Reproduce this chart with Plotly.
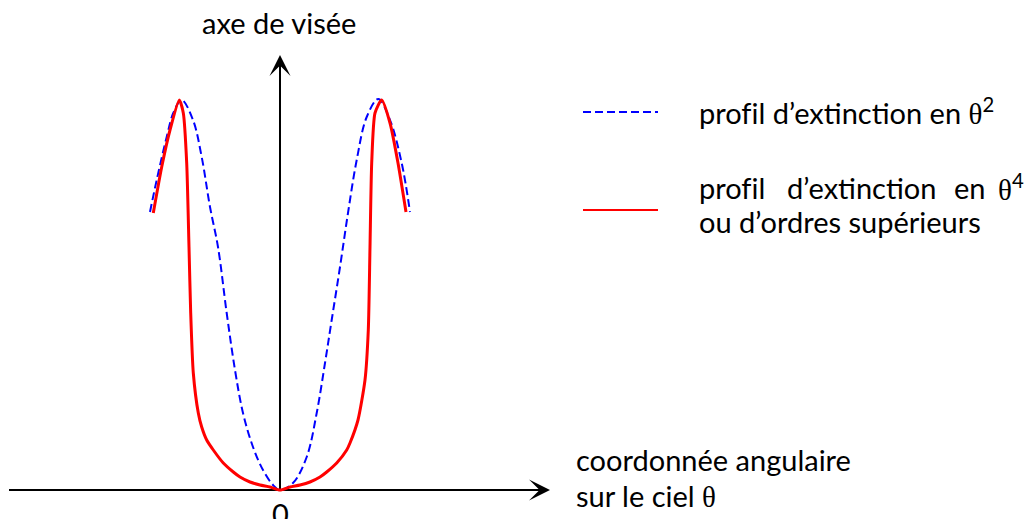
import plotly.graph_objects as go

# courbes (theta en abscisse, extinction en ordonnee)
blue_x = [-1.30, -1.233, -1.133, -1.067, -0.983, -0.87, -0.783, -0.70, -0.62, -0.533, -0.45, -0.37, -0.27, -0.17, -0.07, 0.0,
          0.13, 0.267, 0.367, 0.45, 0.517, 0.60, 0.68, 0.767, 0.867, 0.983, 1.10, 1.217, 1.30]
blue_y = [2.78, 3.10, 3.53, 3.77, 3.90, 3.70, 3.33, 2.83, 2.43, 1.77, 1.20, 0.77, 0.43, 0.20, 0.05, 0.0,
          0.07, 0.33, 0.77, 1.27, 1.70, 2.23, 2.77, 3.30, 3.73, 3.91, 3.70, 3.27, 2.78]

red_x = [-1.267, -1.183, -1.10, -1.007, -0.967, -0.933, -0.91, -0.893, -0.867, -0.817, -0.783, -0.733, -0.667,
         -0.567, -0.467, -0.40, -0.30, -0.20, -0.10, 0.0,
         0.10, 0.20, 0.30, 0.40, 0.467, 0.567, 0.667, 0.70, 0.78, 0.85, 0.883, 0.90, 0.917, 0.95, 1.017, 1.10, 1.18, 1.26]
red_y = [2.77, 3.23, 3.60, 3.90, 3.77, 3.27, 2.43, 1.77, 1.17, 0.77, 0.63, 0.50, 0.40,
         0.27, 0.18, 0.13, 0.08, 0.05, 0.03, 0.0,
         0.03, 0.05, 0.08, 0.13, 0.18, 0.27, 0.40, 0.47, 0.70, 1.10, 1.60, 2.43, 3.27, 3.77, 3.90, 3.67, 3.27, 2.78]

FONT = "Lato"
THETA = '<span style="font-family:Liberation Serif">θ</span>'
NJ = "\u200c"  # evite la ligature fi

fig = go.Figure()
fig.add_trace(go.Scatter(x=blue_x, y=blue_y, mode="lines", line_shape="spline",
                         line=dict(color="#0000ff", width=2, dash="8px,4px"), showlegend=False))
fig.add_trace(go.Scatter(x=red_x, y=red_y, mode="lines", line_shape="spline",
                         line=dict(color="#ff0000", width=3, smoothing=0.6), showlegend=False))

# axes dessines a la main
fig.add_shape(type="line", x0=-2.71, y0=0, x1=2.60, y1=0, line=dict(color="black", width=2), layer="below")
fig.add_shape(type="line", x0=0, y0=0, x1=0, y1=4.20, line=dict(color="black", width=2), layer="below")
fig.add_annotation(x=2.70, y=0, ax=2.40, ay=0, axref="x", ayref="y", text="", showarrow=True,
                   arrowhead=3, arrowsize=1.75, arrowwidth=2, arrowcolor="black", standoff=0)
fig.add_annotation(x=0, y=4.35, ax=0, ay=4.05, axref="x", ayref="y", text="", showarrow=True,
                   arrowhead=3, arrowsize=1.75, arrowwidth=2, arrowcolor="black", standoff=0)

# legende faite main
fig.add_shape(type="line", x0=3.03, y0=3.78, x1=3.78, y1=3.78, line=dict(color="#0000ff", width=2, dash="8px,4px"))
fig.add_shape(type="line", x0=3.03, y0=2.80, x1=3.78, y1=2.80, line=dict(color="#ff0000", width=2))

txt = dict(size=29, color="black", family=FONT)
fig.add_annotation(x=4.17, y=3.79, text="prof" + NJ + "il d’extinction en " + THETA + "<sup>2</sup>",
                   xanchor="left", yanchor="middle", showarrow=False, font=txt)
for word, xpos, anc in [("prof" + NJ + "il", 4.17, "left"), ("d’extinction", 5.05, "left"),
                        ("en", 6.72, "left"), (THETA + "<sup>4</sup>", 7.46, "right")]:
    fig.add_annotation(x=xpos, y=3.03, text=word, xanchor=anc, yanchor="middle", showarrow=False, font=txt)
fig.add_annotation(x=4.17, y=2.69, text="ou d’ordres supérieurs",
                   xanchor="left", yanchor="middle", showarrow=False, font=txt)

fig.add_annotation(x=-0.01, y=4.68, text="axe de visée", xanchor="center", yanchor="middle", showarrow=False, font=txt)
fig.add_annotation(x=2.94, y=0.31, text="coordonnée angulaire", xanchor="left", yanchor="middle", showarrow=False, font=txt)
fig.add_annotation(x=2.94, y=-0.05, text="sur le ciel " + THETA, xanchor="left", yanchor="middle", showarrow=False, font=txt)
fig.add_annotation(x=0, y=-0.23, text="0", xanchor="center", yanchor="middle", showarrow=False, font=txt)

# la page ajoute une marge de 8 px : la figure fait 1024x511 et les plages en tiennent compte
fig.update_xaxes(visible=False, range=[-2.72, 7.52], fixedrange=True)
fig.update_yaxes(visible=False, range=[-0.29, 4.82], fixedrange=True)
fig.update_layout(width=1024, height=511, margin=dict(l=0, r=0, t=0, b=0),
                  plot_bgcolor="white", paper_bgcolor="white")

fig.write_html("out.html")
